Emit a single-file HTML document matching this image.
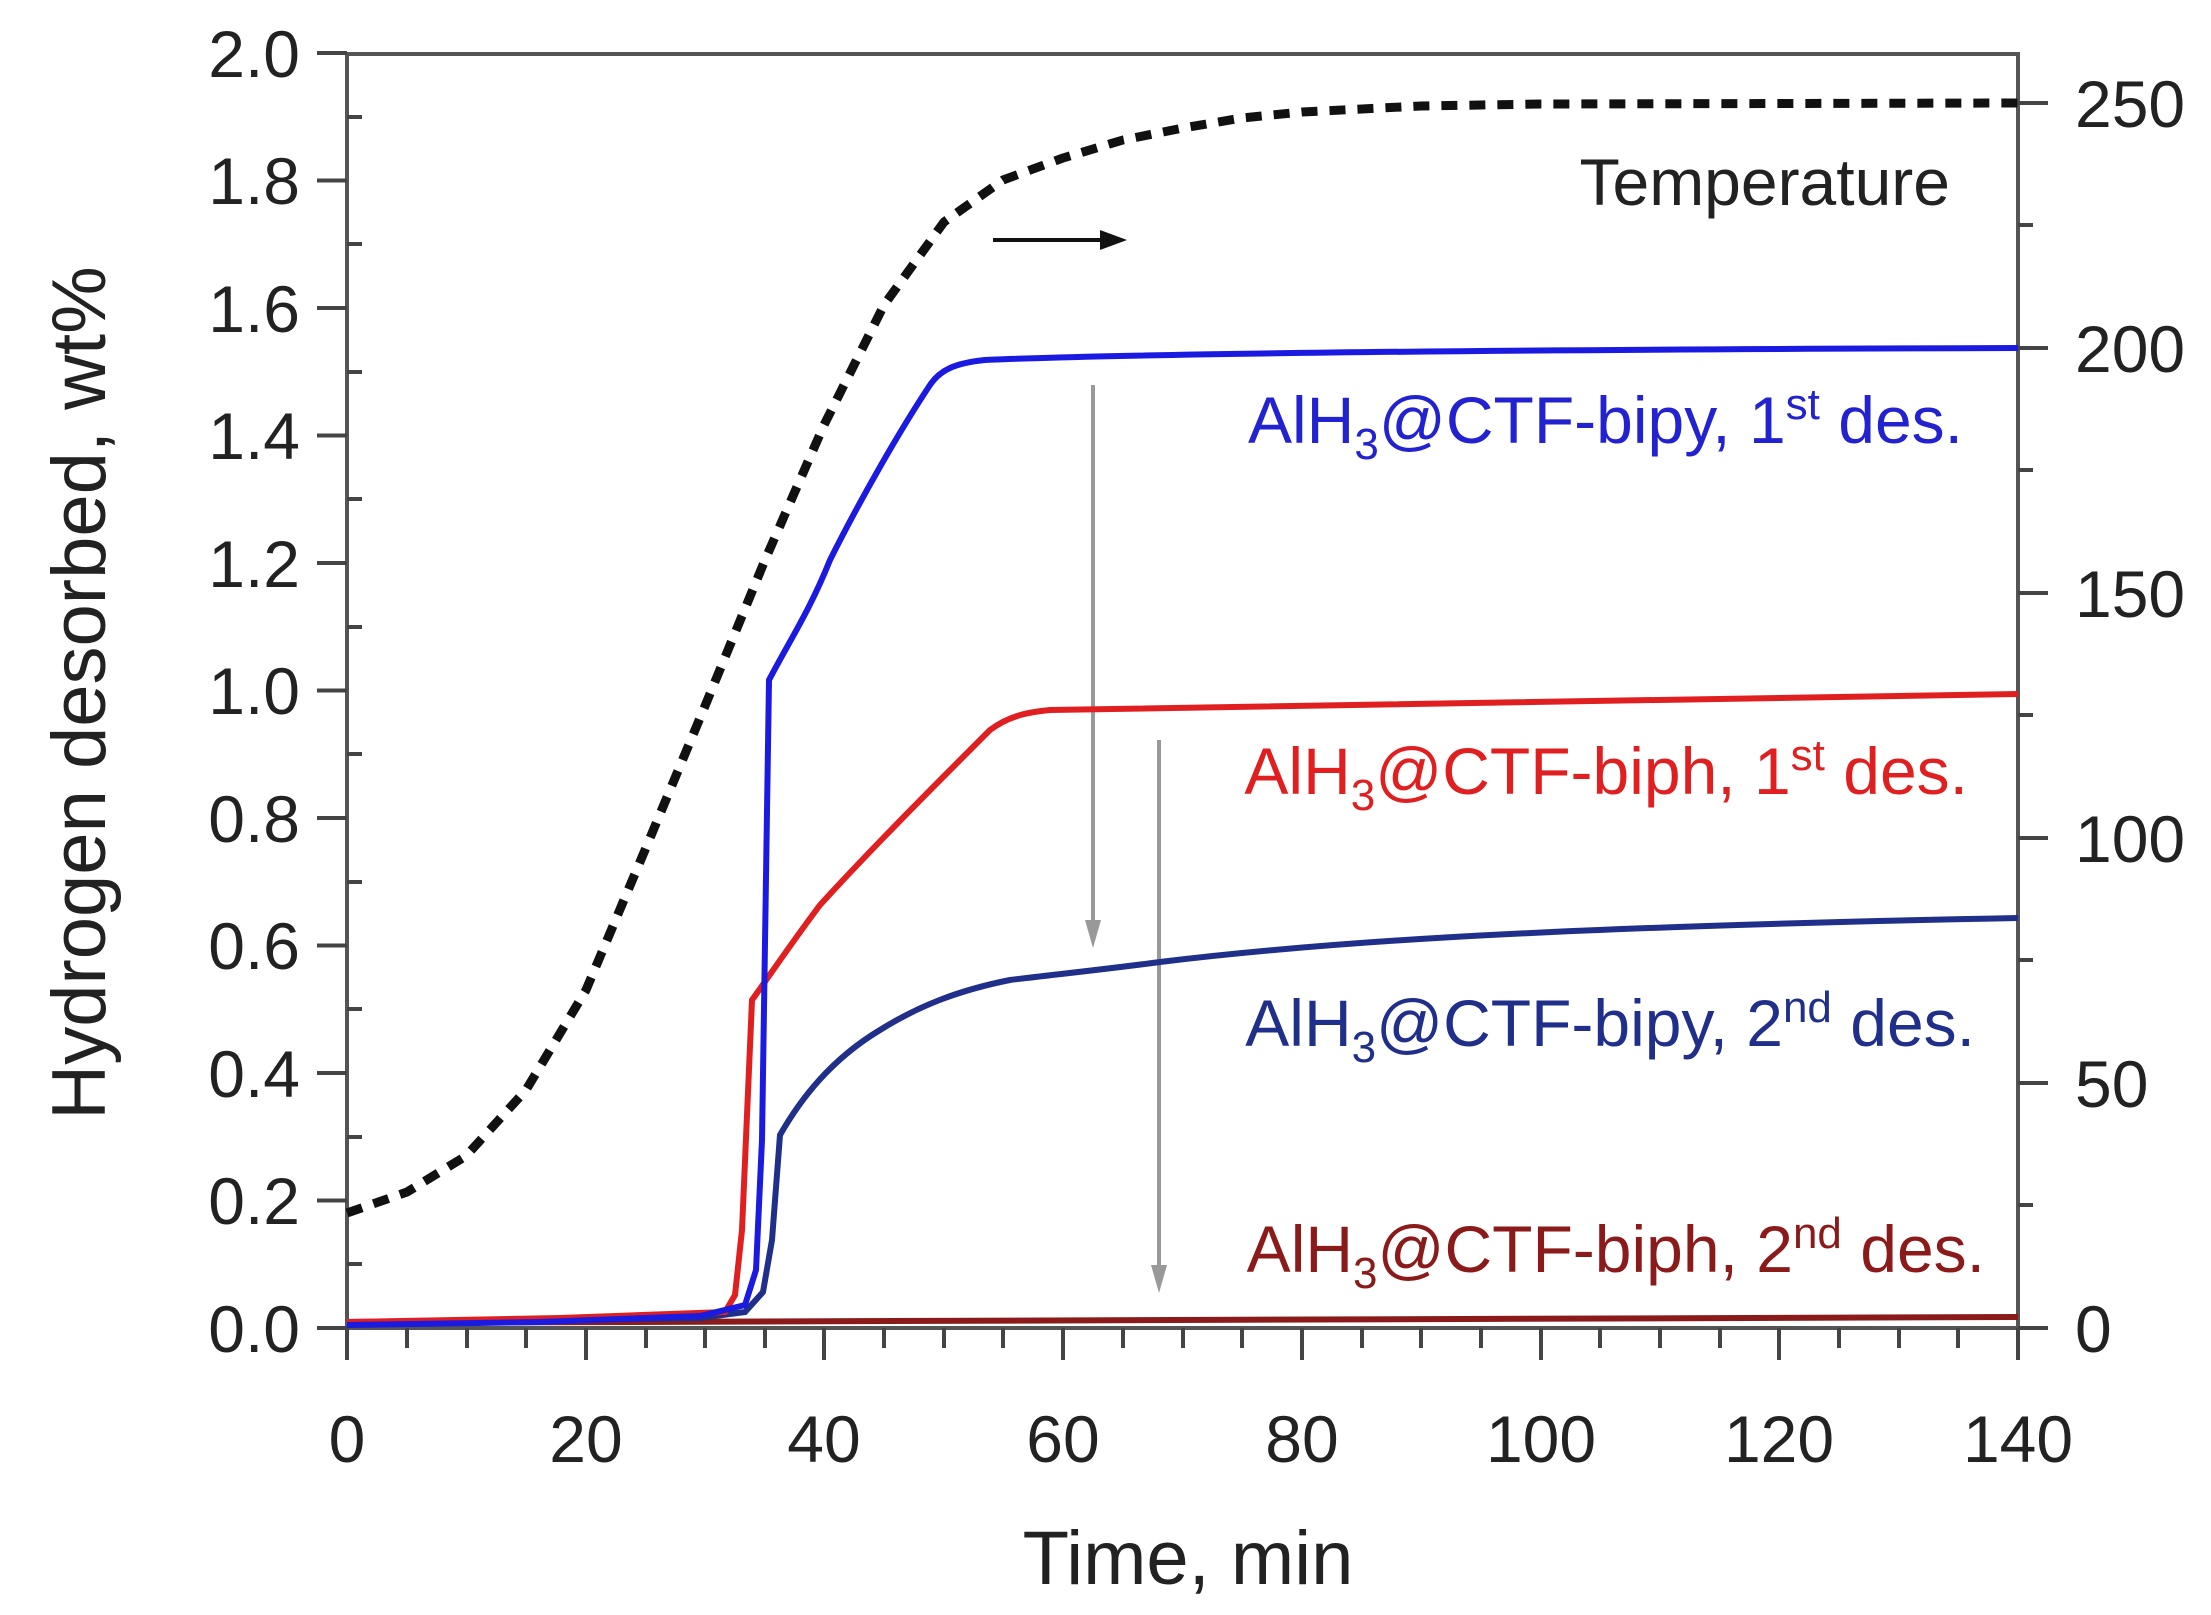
<!DOCTYPE html>
<html><head><meta charset="utf-8"><style>body{margin:0;background:#fff}svg{display:block}text{font-family:"Liberation Sans",sans-serif}</style></head><body>
<svg width="2211" height="1615" viewBox="0 0 2211 1615" xmlns="http://www.w3.org/2000/svg">
<rect x="347" y="54" width="1671" height="1274" fill="none" stroke="#555" stroke-width="4"/>
<g stroke="#444" stroke-width="4">
<path d="M317,1328H347M317,1200.5H347M317,1073H347M317,945.5H347M317,818H347M317,690.5H347M317,563H347M317,435.5H347M317,308H347M317,180.5H347M317,53H347"/>
<path d="M347,1264H362M347,1137H362M347,1009H362M347,882H362M347,754H362M347,627H362M347,499H362M347,372H362M347,244H362M347,117H362"/>
<path d="M2018,1328H2048M2018,1083H2048M2018,838H2048M2018,593H2048M2018,348H2048M2018,103H2048"/>
<path d="M2018,1205H2033M2018,960H2033M2018,715H2033M2018,470H2033M2018,225H2033"/>
<path d="M347,1328V1360M586,1328V1360M824,1328V1360M1063,1328V1360M1302,1328V1360M1541,1328V1360M1779,1328V1360M2018,1328V1360"/>
<path d="M407,1328V1348M467,1328V1348M526,1328V1348M646,1328V1348M705,1328V1348M765,1328V1348M884,1328V1348M944,1328V1348M1003,1328V1348M1123,1328V1348M1183,1328V1348M1242,1328V1348M1362,1328V1348M1421,1328V1348M1481,1328V1348M1600,1328V1348M1660,1328V1348M1720,1328V1348M1839,1328V1348M1899,1328V1348M1958,1328V1348"/>
</g>
<g font-size="66" fill="#222" text-anchor="end">
<text x="300" y="1352">0.0</text><text x="300" y="1224">0.2</text><text x="300" y="1097">0.4</text><text x="300" y="969">0.6</text><text x="300" y="842">0.8</text><text x="300" y="714">1.0</text><text x="300" y="587">1.2</text><text x="300" y="459">1.4</text><text x="300" y="332">1.6</text><text x="300" y="204">1.8</text><text x="300" y="77">2.0</text>
</g>
<g font-size="66" fill="#222">
<text x="2075" y="1352">0</text><text x="2075" y="1107">50</text><text x="2075" y="862">100</text><text x="2075" y="617">150</text><text x="2075" y="372">200</text><text x="2075" y="127">250</text>
</g>
<g font-size="66" fill="#222" text-anchor="middle">
<text x="347" y="1462">0</text><text x="586" y="1462">20</text><text x="824" y="1462">40</text><text x="1063" y="1462">60</text><text x="1302" y="1462">80</text><text x="1541" y="1462">100</text><text x="1779" y="1462">120</text><text x="2018" y="1462">140</text>
</g>
<text x="1188" y="1584" font-size="76" text-anchor="middle" fill="#222">Time, min</text>
<text transform="translate(105,693) rotate(-90)" font-size="76" text-anchor="middle" fill="#222">Hydrogen desorbed, wt%</text>
<path d="M347,1213 L407,1192 L466,1156 L526,1090 L586,990 L645,850 L705,706 L765,560 L824,425 L884,305 L944,222 L1003,180 L1063,158 L1123,140 L1183,128 L1242,118 L1302,112 L1421,106 L1541,104 L2018,103" fill="none" stroke="#111" stroke-width="9" stroke-dasharray="16,12" stroke-linejoin="round"/>
<path d="M993,240H1115" stroke="#111" stroke-width="4"/><path d="M1127,240 L1100,230 L1100,250 Z" fill="#111"/>
<path d="M1093,385V930" stroke="#999" stroke-width="4"/><path d="M1093,948 L1085,920 L1101,920 Z" fill="#999"/>
<path d="M1159,740V1275" stroke="#999" stroke-width="4"/><path d="M1159,1293 L1151,1265 L1167,1265 Z" fill="#999"/>
<path d="M347,1323 L2018,1317" fill="none" stroke="#8b1a1a" stroke-width="6"/>
<path d="M347,1322 L560,1320 L700,1318 L745,1312 L763,1292 L772,1240 L780,1135 C800,1100 830,1060 880,1030 C920,1005 960,990 1010,980 C1050,975 1100,970 1160,962 C1300,945 1500,928 2018,918" fill="none" stroke="#1f2f8a" stroke-width="6"/>
<path d="M347,1322 L560,1318 L725,1312 L735,1295 L742,1230 L752,1000 C770,975 790,945 820,905 C870,850 940,780 990,730 C1010,715 1030,712 1050,710 C1200,705 1500,700 2018,694" fill="none" stroke="#e02020" stroke-width="6"/>
<path d="M347,1325 L540,1322 L700,1316 L745,1305 L756,1270 L762,1140 L769,680 C790,640 810,610 830,560 C860,500 900,430 930,385 C940,370 955,363 985,360 C1100,355 1400,350 2018,348" fill="none" stroke="#1a1ae0" stroke-width="6"/>
<g font-size="66" text-anchor="end">
<text x="1950" y="205" fill="#222">Temperature</text>
<text x="1963" y="443" fill="#2222d0">AlH<tspan font-size="44" dy="16">3</tspan><tspan dy="-16">@CTF-bipy, 1</tspan><tspan font-size="44" dy="-24">st</tspan><tspan dy="24"> des.</tspan></text>
<text x="1968" y="794" fill="#e02020">AlH<tspan font-size="44" dy="16">3</tspan><tspan dy="-16">@CTF-biph, 1</tspan><tspan font-size="44" dy="-24">st</tspan><tspan dy="24"> des.</tspan></text>
<text x="1975" y="1046" fill="#1f2f8a">AlH<tspan font-size="44" dy="16">3</tspan><tspan dy="-16">@CTF-bipy, 2</tspan><tspan font-size="44" dy="-24">nd</tspan><tspan dy="24"> des.</tspan></text>
<text x="1985" y="1272" fill="#8b1a1a">AlH<tspan font-size="44" dy="16">3</tspan><tspan dy="-16">@CTF-biph, 2</tspan><tspan font-size="44" dy="-24">nd</tspan><tspan dy="24"> des.</tspan></text>
</g>
</svg>
</body></html>
